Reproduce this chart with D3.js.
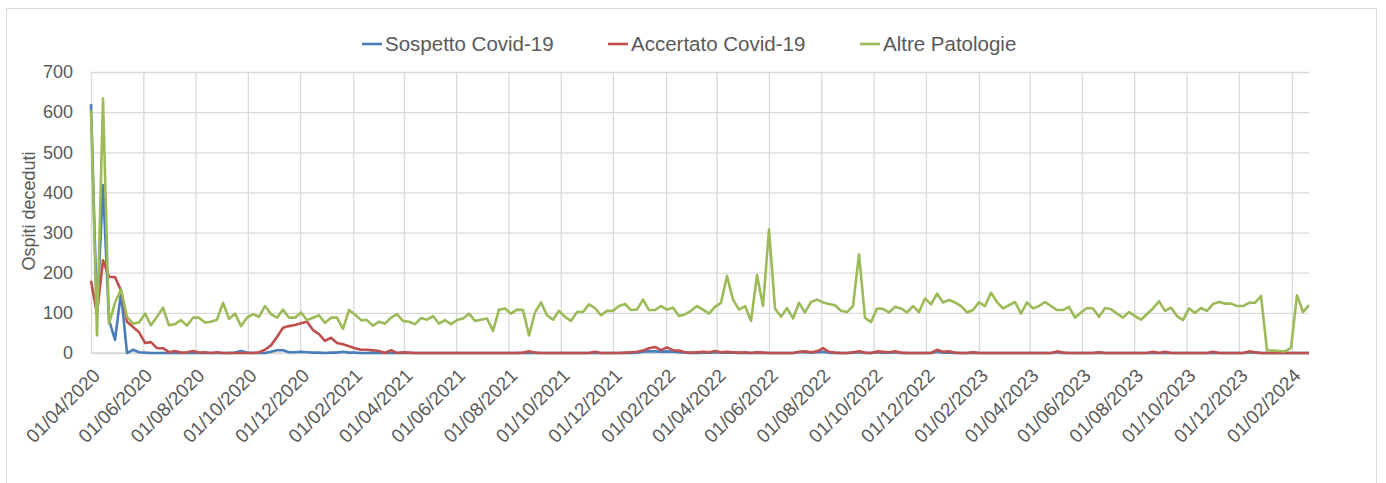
<!DOCTYPE html>
<html>
<head>
<meta charset="utf-8">
<script src="https://cdn.jsdelivr.net/npm/d3@7"></script>
<style>
  html, body { margin: 0; padding: 0; background: #fff; }
  svg { display: block; font-family: "Liberation Sans", Arial, sans-serif; }
</style>
</head>
<body>
<svg id="chart" width="1386" height="483"></svg>
<script>
// ---- Data (weekly, starting 01/04/2020) ----
const startDate = "2020-04-01";
const seriesNames = ["Sospetto Covid-19", "Accertato Covid-19", "Altre Patologie"];
const seriesColors = ["#4a7ebb", "#c0504d", "#9bbb59"];
const yTicks = [0, 100, 200, 300, 400, 500, 600, 700];
const xTickLabels = ["01/04/2020","01/06/2020","01/08/2020","01/10/2020","01/12/2020",
  "01/02/2021","01/04/2021","01/06/2021","01/08/2021","01/10/2021","01/12/2021",
  "01/02/2022","01/04/2022","01/06/2022","01/08/2022","01/10/2022","01/12/2022",
  "01/02/2023","01/04/2023","01/06/2023","01/08/2023","01/10/2023","01/12/2023",
  "01/02/2024"];

const sospetto = [
  620, 90, 418, 82, 33, 150, 0, 8, 2, 1, 0, 0, 0, 0, 0, 0, 0, 0, 0, 0,
  0, 0, 0, 0, 1, 5, 1, 0, 0, 0, 3, 7, 7, 2, 2, 3, 2, 1, 1, 0,
  1, 1, 3, 1, 1, 0, 0, 1, 0, 0, 0, 0, 0, 0, 0, 0, 0, 0, 0, 0,
  0, 0, 0, 0, 0, 0, 0, 0, 0, 0, 0, 0, 0, 1, 0, 0, 0, 0, 0, 0,
  0, 0, 0, 0, 1, 0, 0, 0, 0, 0, 0, 1, 3, 4, 4, 3, 4, 3, 2, 1,
  0, 0, 1, 1, 2, 1, 1, 1, 0, 1, 0, 1, 0, 0, 0, 0, 0, 0, 2, 2,
  1, 2, 3, 1, 0, 0, 0, 1, 2, 0, 0, 2, 1, 1, 2, 0, 0, 0, 0, 0,
  0, 3, 1, 1, 0, 0, 0, 1, 0, 0, 0, 0, 0, 0, 0, 0, 0, 0, 0, 0,
  0, 2, 0, 0, 0, 0, 0, 0, 1, 0, 0, 0, 0, 0, 0, 0, 0, 1, 0, 1,
  0, 0, 0, 0, 0, 0, 0, 1, 0, 0, 0, 0, 0, 2, 1, 0, 0, 0, 0, 0,
  0, 0, 0, 0
];
const accertato = [
  180, 98, 231, 190, 189, 156, 78, 65, 52, 25, 27, 12, 12, 2, 5, 1, 2, 5, 1, 2,
  0, 2, 0, 0, 0, 0, 0, 0, 2, 8, 19, 40, 63, 67, 70, 74, 78, 57, 47, 30,
  38, 25, 22, 17, 12, 8, 8, 7, 5, 0, 7, 0, 2, 1, 0, 0, 0, 0, 0, 0,
  0, 0, 0, 0, 0, 0, 0, 0, 0, 0, 0, 0, 1, 4, 1, 0, 0, 0, 0, 0,
  0, 0, 0, 0, 3, 0, 0, 0, 0, 1, 2, 3, 6, 12, 15, 7, 14, 7, 6, 2,
  1, 2, 3, 2, 5, 2, 3, 2, 1, 2, 0, 2, 1, 0, 0, 0, 0, 0, 3, 4,
  2, 4, 12, 3, 1, 0, 0, 2, 4, 1, 0, 4, 3, 2, 4, 1, 0, 0, 0, 0,
  0, 8, 3, 4, 1, 0, 0, 2, 0, 0, 0, 0, 0, 0, 0, 0, 0, 0, 0, 0,
  0, 4, 1, 0, 0, 0, 0, 0, 2, 0, 0, 0, 0, 0, 0, 0, 0, 3, 0, 3,
  0, 0, 0, 0, 0, 0, 0, 3, 0, 0, 0, 0, 0, 4, 2, 0, 0, 0, 0, 0,
  0, 0, 0, 0
];
const altre = [
  605, 44, 634, 73, 125, 158, 90, 73, 76, 98, 69, 90, 113, 69, 72, 82, 68, 88, 88, 76,
  78, 83, 125, 85, 98, 67, 88, 97, 90, 117, 97, 88, 108, 88, 88, 101, 82, 88, 94, 75,
  88, 88, 60, 107, 96, 82, 82, 68, 78, 73, 88, 97, 80, 78, 72, 87, 83, 92, 73, 82,
  72, 82, 86, 98, 80, 83, 86, 55, 108, 111, 98, 108, 107, 44, 101, 126, 94, 83, 105, 90,
  80, 102, 102, 121, 112, 94, 105, 105, 117, 122, 107, 108, 133, 107, 107, 117, 108, 113, 92, 96,
  105, 117, 108, 98, 115, 125, 192, 133, 108, 117, 80, 194, 117, 308, 111, 90, 112, 86, 125, 101,
  127, 133, 126, 122, 119, 105, 102, 117, 246, 88, 77, 111, 110, 101, 115, 111, 101, 117, 102, 136,
  121, 148, 126, 132, 126, 117, 101, 107, 126, 117, 150, 127, 111, 119, 127, 98, 126, 111, 117, 127,
  117, 107, 107, 115, 88, 101, 112, 111, 90, 112, 109, 98, 88, 102, 92, 83, 97, 111, 129, 105,
  113, 92, 82, 111, 100, 112, 105, 122, 127, 123, 123, 117, 117, 125, 125, 142, 7, 6, 5, 4,
  13, 144, 102, 119
];

// ---- Layout ----
const svg = d3.select("#chart");
const plot = { left: 91, right: 1309, top: 72, bottom: 353 };
const textColor = "#595959";
const gridColor = "#d9d9d9";

const parse = d3.timeParse("%Y-%m-%d");
const t0 = parse(startDate);
const dates = altre.map((_, i) => d3.timeDay.offset(t0, 7 * i));
const tickDates = xTickLabels.map(d3.timeParse("%d/%m/%Y"));

const x = d3.scaleTime().domain([dates[0], dates[dates.length - 1]]).range([plot.left, plot.right]);
const y = d3.scaleLinear().domain([0, 700]).range([plot.bottom, plot.top]);

// Outer chart border
svg.append("rect")
  .attr("x", 6.5).attr("y", 8.5).attr("width", 1370).attr("height", 500)
  .attr("fill", "#fff").attr("stroke", gridColor).attr("stroke-width", 1);

// Horizontal gridlines + y labels
const yAxis = d3.axisLeft(y).tickValues(yTicks).tickSize(-(plot.right - plot.left)).tickPadding(18);
const gy = svg.append("g").attr("transform", `translate(${plot.left},0)`).call(yAxis);
gy.select(".domain").remove();
gy.selectAll(".tick line").attr("stroke", gridColor).attr("stroke-width", 1.3);
gy.selectAll(".tick text").attr("fill", textColor).style("font-size", "18px")
  .style("font-family", "'Liberation Sans', Arial, sans-serif");

// Vertical gridlines + x labels
const xAxis = d3.axisBottom(x).tickValues(tickDates).tickSize(-(plot.bottom - plot.top))
  .tickFormat(d3.timeFormat("%d/%m/%Y"));
const gx = svg.append("g").attr("transform", `translate(0,${plot.bottom})`).call(xAxis);
gx.select(".domain").remove();
gx.selectAll(".tick line").attr("stroke", gridColor).attr("stroke-width", 1.3);
gx.selectAll(".tick text")
  .attr("fill", textColor).style("font-size", "19px")
  .style("font-family", "'Liberation Sans', Arial, sans-serif")
  .attr("text-anchor", "end")
  .attr("dy", "0.35em")
  .attr("y", 0)
  .attr("transform", "translate(5,19) rotate(-45)");

// Bottom baseline
svg.append("line").attr("x1", plot.left).attr("x2", plot.right)
  .attr("y1", y(0)).attr("y2", y(0)).attr("stroke", gridColor).attr("stroke-width", 1.3);

// Lines
const series = [sospetto, accertato, altre];
const line = d3.line().x((d, i) => x(dates[i])).y(d => y(d));
series.forEach((vals, si) => {
  svg.append("path").datum(vals)
    .attr("fill", "none")
    .attr("stroke", seriesColors[si])
    .attr("stroke-width", 2.6)
    .attr("stroke-linejoin", "round")
    .attr("d", line);
});

// Y axis title
svg.append("text")
  .attr("transform", `translate(35,211) rotate(-90)`)
  .attr("text-anchor", "middle")
  .attr("fill", textColor)
  .style("font-size", "18px")
  .text("Ospiti deceduti");

// Legend
const legendItems = [
  { x: 362, name: seriesNames[0], color: seriesColors[0] },
  { x: 608, name: seriesNames[1], color: seriesColors[1] },
  { x: 860, name: seriesNames[2], color: seriesColors[2] }
];
const lg = svg.append("g");
legendItems.forEach(it => {
  lg.append("line").attr("x1", it.x).attr("x2", it.x + 20).attr("y1", 44).attr("y2", 44)
    .attr("stroke", it.color).attr("stroke-width", 2.6);
  lg.append("text").attr("x", it.x + 23).attr("y", 44).attr("dy", "0.35em")
    .attr("fill", textColor).style("font-size", "20.5px").text(it.name);
});
</script>
</body>
</html>
